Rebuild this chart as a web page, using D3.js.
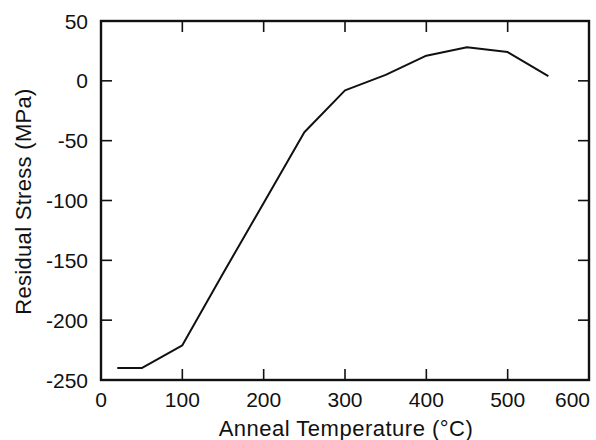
<!DOCTYPE html>
<html>
<head>
<meta charset="utf-8">
<script src="https://cdn.jsdelivr.net/npm/d3@7"></script>
<style>
  body { margin: 0; background: #fff; }
  text { font-family: "Liberation Sans", Arial, Helvetica, sans-serif; fill: #111; }
</style>
</head>
<body>
<div id="chart"></div>
<script>
var temps = [20, 50, 100, 150, 200, 250, 300, 350, 400, 450, 500, 550];
var stress = [-240, -240, -221, -161, -102, -43, -8, 5, 21, 28, 24, 4];
var xTicks = [0, 100, 200, 300, 400, 500, 600];
var yTicks = [50, 0, -50, -100, -150, -200, -250];

var width = 596, height = 440;
var margin = {top: 21, right: 7, bottom: 60, left: 101};
var tickLen = 11;

var svg = d3.select("#chart").append("svg")
    .attr("width", width).attr("height", height);

var x = d3.scaleLinear().domain([0, 600]).range([margin.left, width - margin.right]);
var y = d3.scaleLinear().domain([-250, 50]).range([height - margin.bottom, margin.top]);

// inward ticks on all four sides
var ticks = svg.append("g").attr("stroke", "#111").attr("stroke-width", 1.6);
ticks.selectAll("line.xb").data(xTicks).enter().append("line")
    .attr("x1", x).attr("x2", x)
    .attr("y1", y(-250)).attr("y2", y(-250) - tickLen);
ticks.selectAll("line.xt").data(xTicks).enter().append("line")
    .attr("x1", x).attr("x2", x)
    .attr("y1", y(50)).attr("y2", y(50) + tickLen);
ticks.selectAll("line.yl").data(yTicks).enter().append("line")
    .attr("y1", y).attr("y2", y)
    .attr("x1", x(0)).attr("x2", x(0) + tickLen);
ticks.selectAll("line.yr").data(yTicks).enter().append("line")
    .attr("y1", y).attr("y2", y)
    .attr("x1", x(600)).attr("x2", x(600) - tickLen);

svg.append("rect")
    .attr("x", x(0)).attr("y", y(50))
    .attr("width", x(600) - x(0)).attr("height", y(-250) - y(50))
    .attr("fill", "none").attr("stroke", "#111").attr("stroke-width", 2.4);

// last label is pulled in so it stays inside the page
svg.selectAll("text.xt").data(xTicks).enter().append("text")
    .attr("x", function(d) { return d === 600 ? x(d) + 1 : x(d); })
    .attr("y", y(-250) + 27)
    .attr("text-anchor", function(d) { return d === 600 ? "end" : "middle"; })
    .attr("font-size", 21)
    .text(function(d) { return d; });

svg.selectAll("text.yt").data(yTicks).enter().append("text")
    .attr("x", x(0) - 13).attr("y", y)
    .attr("dy", "0.36em")
    .attr("text-anchor", "end")
    .attr("font-size", 21)
    .text(function(d) { return d; });

svg.append("text")
    .attr("x", (x(0) + x(600)) / 2 + 1).attr("y", 436)
    .attr("text-anchor", "middle")
    .attr("font-size", 22)
    .attr("letter-spacing", 0.5)
    .text("Anneal Temperature (°C)");

svg.append("text")
    .attr("transform", "translate(31," + (y(-100) + 1) + ") rotate(-90)")
    .attr("text-anchor", "middle")
    .attr("font-size", 22)
    .attr("letter-spacing", 0.3)
    .text("Residual Stress (MPa)");

var line = d3.line()
    .x(function(d, i) { return x(temps[i]); })
    .y(function(d) { return y(d); });

svg.append("path")
    .datum(stress)
    .attr("fill", "none")
    .attr("stroke", "#111")
    .attr("stroke-width", 2)
    .attr("stroke-linejoin", "round")
    .attr("d", line);
</script>
</body>
</html>
